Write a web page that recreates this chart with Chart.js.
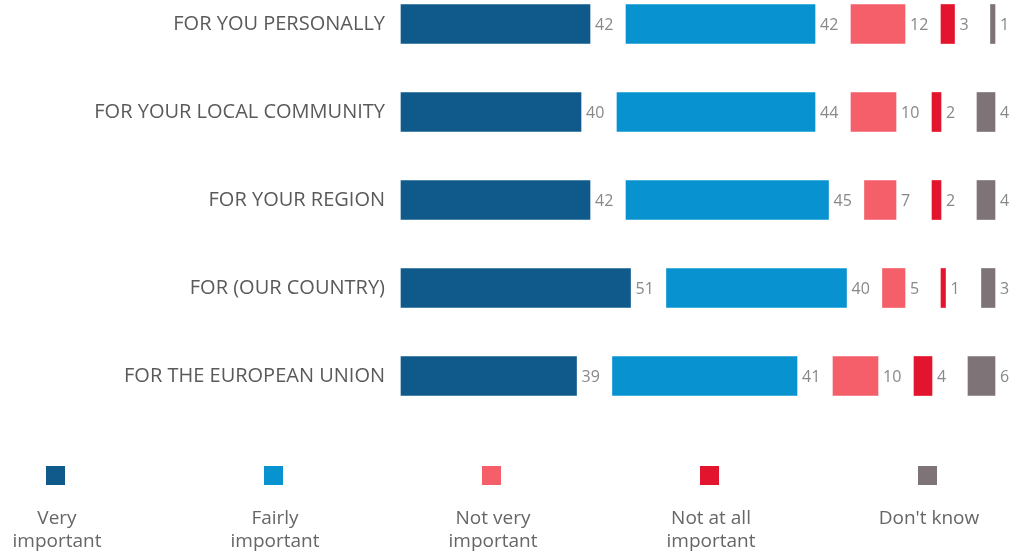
<!DOCTYPE html>
<html>
<head>
<meta charset="utf-8">
<script src="https://cdn.jsdelivr.net/npm/chart.js@4"></script>
<style>
    body { margin: 0; background: #fff; }
    #wrap { width: 1011px; height: 556px; position: relative; }
</style>
</head>
<body>
<div id="wrap"><canvas id="importanceChart"></canvas></div>
<script>
const categories = [
    "FOR YOU PERSONALLY",
    "FOR YOUR LOCAL COMMUNITY",
    "FOR YOUR REGION",
    "FOR (OUR COUNTRY)",
    "FOR THE EUROPEAN UNION"
];

const veryImportant = [42, 40, 42, 51, 39];
const fairlyImportant = [42, 44, 45, 40, 41];
const notVeryImportant = [12, 10, 7, 5, 10];
const notAtAllImportant = [3, 2, 2, 1, 4];
const dontKnow = [1, 4, 4, 3, 6];

const seriesNames = ["Very\nimportant", "Fairly\nimportant", "Not very\nimportant", "Not at all\nimportant", "Don't know"];
const seriesColors = ["#0f5a8a", "#0892d0", "#f45f69", "#e2142e", "#7e7377"];

// empty space between the segments, in value units
const gapSize = 8;

const seriesValues = [veryImportant, fairlyImportant, notVeryImportant, notAtAllImportant, dontKnow];

const datasets = [];
seriesValues.forEach((values, i) => {
    datasets.push({
        label: seriesNames[i],
        data: values,
        backgroundColor: seriesColors[i],
        isGap: false
    });
    if(i < seriesValues.length - 1){
        datasets.push({
            label: "gap",
            data: values.map(() => gapSize),
            backgroundColor: "rgba(0,0,0,0)",
            isGap: true
        });
    }
});

const valueLabels = {
    id: "valueLabels",
    afterDatasetsDraw(chart){
        const ctx = chart.ctx;
        ctx.save();
        ctx.font = "16px 'Open Sans'";
        ctx.fillStyle = "#888";
        ctx.textAlign = "left";
        ctx.textBaseline = "middle";
        chart.data.datasets.forEach((ds, di) => {
            if(ds.isGap) return;
            chart.getDatasetMeta(di).data.forEach((bar, j) => {
                ctx.fillText(ds.data[j], bar.x + 5, bar.y + 1);
            });
        });
        ctx.restore();
    }
};

const bottomLegend = {
    id: "bottomLegend",
    afterDraw(chart){
        const ctx = chart.ctx;
        const startX = 55;
        const stepX = 218;
        ctx.save();
        ctx.font = "19px 'Open Sans'";
        ctx.textAlign = "center";
        ctx.textBaseline = "middle";
        let k = 0;
        chart.data.datasets.forEach(ds => {
            if(ds.isGap) return;
            const cx = startX + stepX * k;
            ctx.fillStyle = ds.backgroundColor;
            ctx.fillRect(cx - 9, 466, 19, 19);
            ctx.fillStyle = "#666";
            ds.label.split("\n").forEach((line, n) => {
                ctx.fillText(line, cx + 2, 519 + n * 23);
            });
            k++;
        });
        ctx.restore();
    }
};

new Chart(document.getElementById("importanceChart"), {
    type: "bar",
    data: {
        labels: categories,
        datasets: datasets
    },
    options: {
        indexAxis: "y",
        responsive: true,
        maintainAspectRatio: false,
        animation: false,
        events: [],
        layout: {
            padding: { top: 24, bottom: 180, left: 0, right: 16 }
        },
        datasets: {
            bar: {
                barThickness: 39,
                borderWidth: 0,
                clip: false
            }
        },
        scales: {
            x: {
                stacked: true,
                min: 0,
                max: 132,
                display: false
            },
            y: {
                stacked: true,
                offset: false,
                grid: { display: false },
                border: { display: false },
                ticks: {
                    color: "#5a5a5a",
                    padding: 8,
                    font: { family: "'Open Sans'", size: 20 }
                },
                afterFit(scale){
                    scale.width = 401;
                }
            }
        },
        plugins: {
            legend: { display: false },
            tooltip: { enabled: false }
        }
    },
    plugins: [valueLabels, bottomLegend]
});
</script>
</body>
</html>
